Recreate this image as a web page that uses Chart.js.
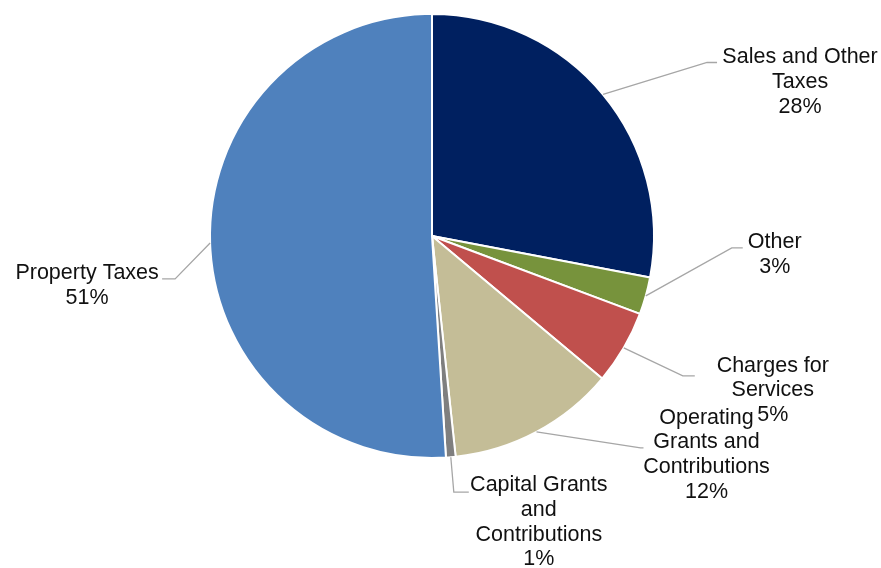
<!DOCTYPE html>
<html>
<head>
<meta charset="utf-8">
<script src="https://cdn.jsdelivr.net/npm/chart.js@4/dist/chart.umd.min.js"></script>
<style>
    body { margin: 0; background: #fff; }
    #wrap { width: 881px; height: 568px; position: relative; }
</style>
</head>
<body>
<div id="wrap"><canvas id="revenue"></canvas></div>
<script>
const categories = [
    "Sales and Other Taxes",
    "Other",
    "Charges for Services",
    "Operating Grants and Contributions",
    "Capital Grants and Contributions",
    "Property Taxes"
];

// how each category name wraps in its label
const labelLines = [
    ["Sales and Other", "Taxes"],
    ["Other"],
    ["Charges for", "Services"],
    ["Operating", "Grants and", "Contributions"],
    ["Capital Grants", "and", "Contributions"],
    ["Property Taxes"]
];

// share of revenue, percent
const shares = [28.0, 2.7, 5.4, 12.2, 0.7, 51.0];

const sliceColors = ["#002060", "#77933C", "#C0504D", "#C4BD97", "#7F7F7F", "#4F81BD"];

// leader line: elbow offset from the slice edge, then horizontal run, then text offset
const leaders = [
    { elbow: [104, -32], run: 10, text: [83, -5] },
    { elbow: [86, -48], run: 11, text: [32, -6] },
    { elbow: [59, 28], run: 12, text: [78, -10] },
    { elbow: [104, 16], run: 3, text: [63, -30] },
    { elbow: [3, 35], run: 15, text: [70, -7] },
    { elbow: [-35, 36], run: -13, text: [-75, -6] }
];

const labelFont = "21.5px 'Liberation Sans', Arial, sans-serif";
const lineHeight = 24.7;

const leaderLabels = {
    id: "leaderLabels",
    afterDatasetsDraw(chart) {
        const ctx = chart.ctx;
        const meta = chart.getDatasetMeta(0);
        const total = shares.reduce((acc, v) => acc + v, 0);

        ctx.save();
        meta.data.forEach((arc, i) => {
            const p = arc.getProps(["x", "y", "startAngle", "endAngle", "outerRadius"], true);
            const mid = (p.startAngle + p.endAngle) / 2;
            const ax = p.x + Math.cos(mid) * p.outerRadius;
            const ay = p.y + Math.sin(mid) * p.outerRadius;
            const l = leaders[i];
            const ex = ax + l.elbow[0];
            const ey = ay + l.elbow[1];
            const endX = ex + l.run;

            ctx.strokeStyle = "#A6A6A6";
            ctx.lineWidth = 1.3;
            ctx.beginPath();
            ctx.moveTo(ax, ay);
            ctx.lineTo(ex, ey);
            ctx.lineTo(endX, ey);
            ctx.stroke();

            let lines = labelLines[i].concat([Math.round(shares[i] / total * 100) + "%"]);
            ctx.fillStyle = "#111111";
            ctx.font = labelFont;
            ctx.textAlign = "center";
            ctx.textBaseline = "middle";
            lines.forEach((txt, k) => {
                ctx.fillText(txt, endX + l.text[0], ey + l.text[1] + k * lineHeight);
            });
        });
        ctx.restore();
    }
};

new Chart(document.getElementById("revenue"), {
    type: "pie",
    data: {
        labels: categories,
        datasets: [{
            data: shares,
            backgroundColor: sliceColors,
            borderColor: "#ffffff",
            borderWidth: 2
        }]
    },
    options: {
        responsive: true,
        maintainAspectRatio: false,
        animation: false,
        layout: { padding: { left: 209, right: 226, top: 13, bottom: 109 } },
        plugins: {
            legend: { display: false },
            tooltip: { enabled: false }
        }
    },
    plugins: [leaderLabels]
});
</script>
</body>
</html>
